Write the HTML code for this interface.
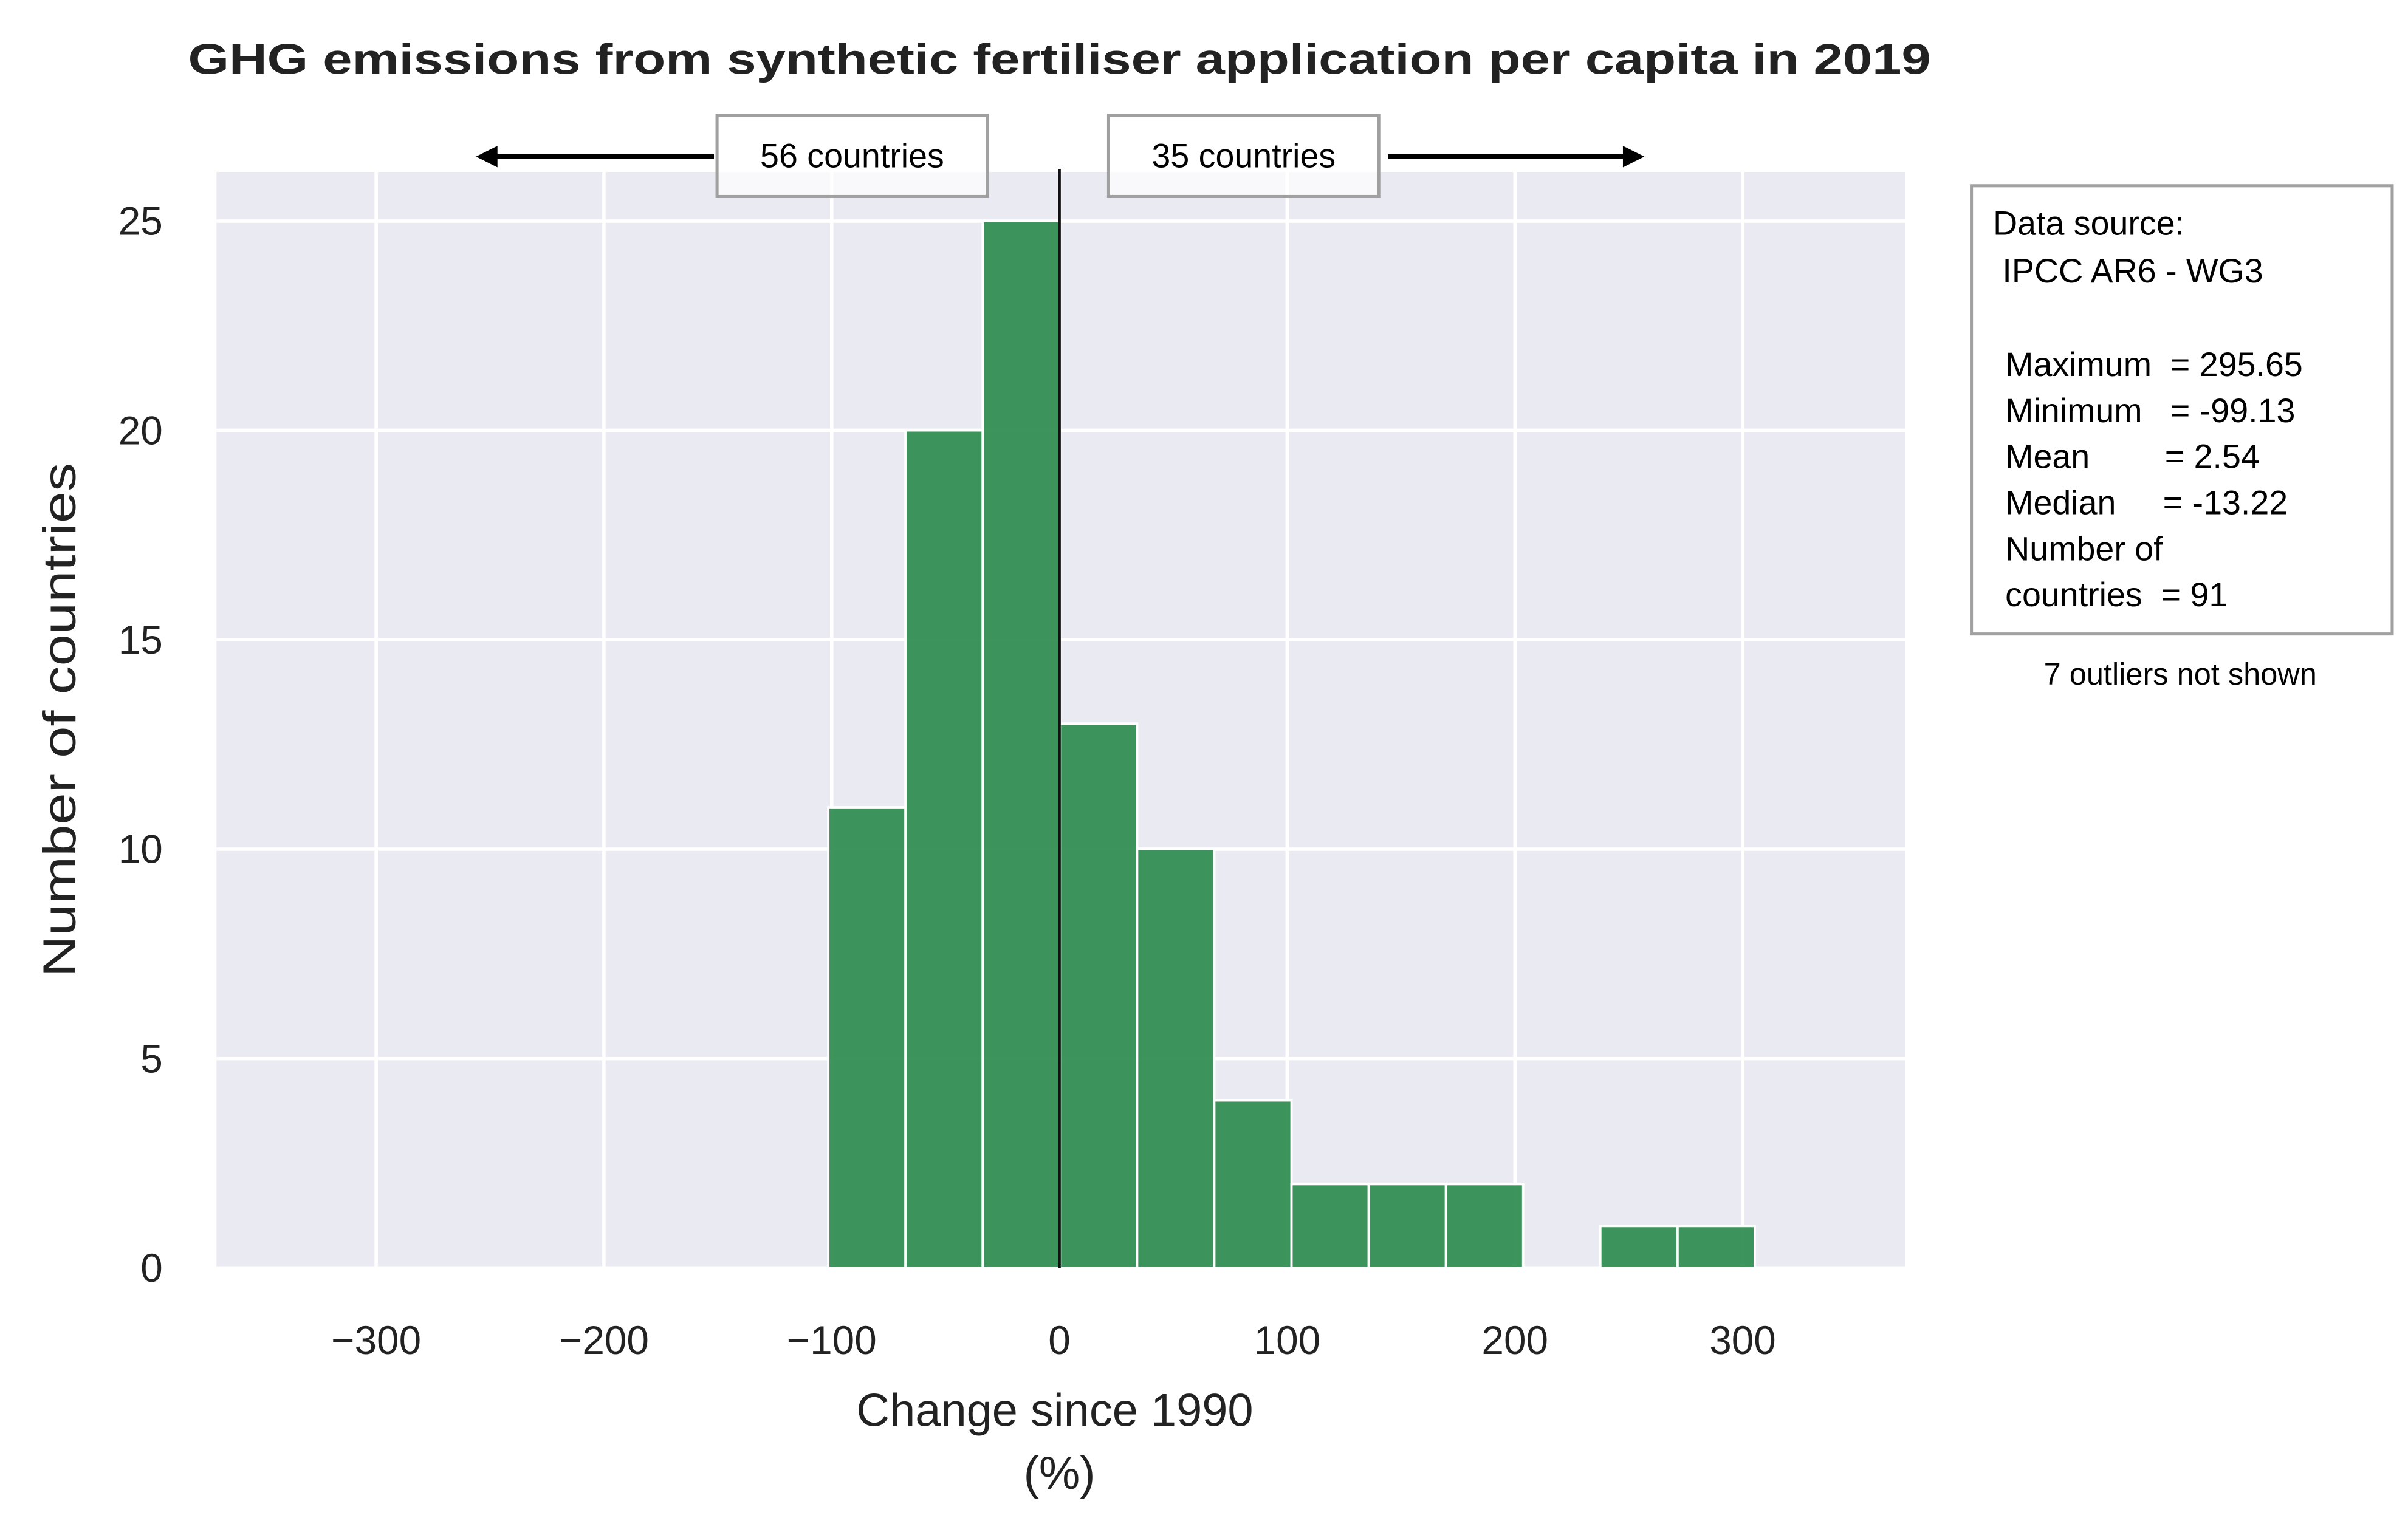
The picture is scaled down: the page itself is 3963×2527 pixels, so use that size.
<!DOCTYPE html>
<html><head><meta charset="utf-8"><style>html,body{margin:0;padding:0;background:#fff}svg{display:block}text{white-space:pre}</style></head>
<body>
<svg id="chart" width="3963" height="2527" viewBox="0 0 1568.3 1000" xmlns="http://www.w3.org/2000/svg" font-family="'Liberation Sans', sans-serif">
<text x="690" y="48" text-anchor="middle" font-size="28" font-weight="bold" fill="#222" textLength="1135" lengthAdjust="spacingAndGlyphs">GHG emissions from synthetic fertiliser application per capita in 2019</text>
<rect x="141" y="112" width="1100" height="714" fill="#eaeaf2"/>
<g id="grid"></g>
<g id="bars"></g>
<line x1="690" y1="110" x2="690" y2="826" stroke="#111" stroke-width="1.8"/>
<g id="ticks" font-size="26" fill="#222"></g>
<text x="687" y="929" text-anchor="middle" font-size="30" fill="#222">Change since 1990</text>
<text x="690" y="970" text-anchor="middle" font-size="30" fill="#222">(%)</text>
<text transform="translate(49,469) rotate(-90)" text-anchor="middle" font-size="30" fill="#222" textLength="335" lengthAdjust="spacingAndGlyphs">Number of countries</text>
<g>
<line x1="465" y1="102" x2="322" y2="102" stroke="#000" stroke-width="3"/>
<polygon points="310,102 324,95 324,109" fill="#000"/>
<rect x="467" y="75" width="176" height="53" fill="#fff" fill-opacity="0.7" stroke="#a0a0a0" stroke-width="2"/>
<text x="555" y="109" text-anchor="middle" font-size="22" fill="#000">56 countries</text>
</g>
<g>
<line x1="904" y1="102" x2="1058" y2="102" stroke="#000" stroke-width="3"/>
<polygon points="1071,102 1057,95 1057,109" fill="#000"/>
<rect x="722" y="75" width="176" height="53" fill="#fff" fill-opacity="0.7" stroke="#a0a0a0" stroke-width="2"/>
<text x="810" y="109" text-anchor="middle" font-size="22" fill="#000">35 countries</text>
</g>
<g font-size="22" fill="#000">
<rect x="1284" y="121" width="274" height="292" fill="#fff" stroke="#a0a0a0" stroke-width="2"/>
<text x="1298" y="153">Data source:</text>
<text x="1298" y="184"> IPCC AR6 - WG3</text>
<text x="1306" y="245">Maximum  = 295.65</text>
<text x="1306" y="275">Minimum   = -99.13</text>
<text x="1306" y="305">Mean        = 2.54</text>
<text x="1306" y="335">Median     = -13.22</text>
<text x="1306" y="365">Number of</text>
<text x="1306" y="395">countries  = 91</text>
</g>
<text x="1420" y="446" text-anchor="middle" font-size="20" fill="#000">7 outliers not shown</text>
</svg>
<script>
const binStart = -101.5;
const binWidth = 33.9;
const counts = [11,20,25,13,10,4,2,2,2,0,1,1];
const xTicks = [-300,-200,-100,0,100,200,300];
const xTickLabels = ["\u2212300","\u2212200","\u2212100","0","100","200","300"];
const yTicks = [0,5,10,15,20,25];
const NS = "http://www.w3.org/2000/svg";
const xs = v => 690 + v * 1.4833;
const ys = v => 826 - v * 27.28;
const grid = document.getElementById('grid');
const bars = document.getElementById('bars');
const ticks = document.getElementById('ticks');
function mk(tag, attrs, parent){const e=document.createElementNS(NS,tag);for(const k in attrs)e.setAttribute(k,attrs[k]);parent.appendChild(e);return e;}
xTicks.forEach((t,i)=>{
  const l = mk('line',{x1:xs(t),x2:xs(t),y1:112,y2:826,stroke:'#fff','stroke-width':2.2},grid);
  
  
  const tx = mk('text',{x:xs(t),y:882,'text-anchor':'middle'},ticks);
  tx.textContent = xTickLabels[i];
  
  
});
yTicks.forEach(t=>{
  const l = mk('line',{x1:141,x2:1241,y1:ys(t),y2:ys(t),stroke:'#fff','stroke-width':2.2},grid);
  
  
  const tx = mk('text',{x:106,y:ys(t)+9,'text-anchor':'end'},ticks);
  tx.textContent = t;
  
  
});
counts.forEach((c,i)=>{
  if(c<=0) return;
  const x0 = xs(binStart + i*binWidth), x1 = xs(binStart + (i+1)*binWidth);
  const r = mk('rect',{x:x0,y:ys(c),width:x1-x0,height:ys(0)-ys(c),fill:'#2e8b4f','fill-opacity':0.92,stroke:'#fff','stroke-width':1.5},bars);
  
  
});
</script>
</body></html>
